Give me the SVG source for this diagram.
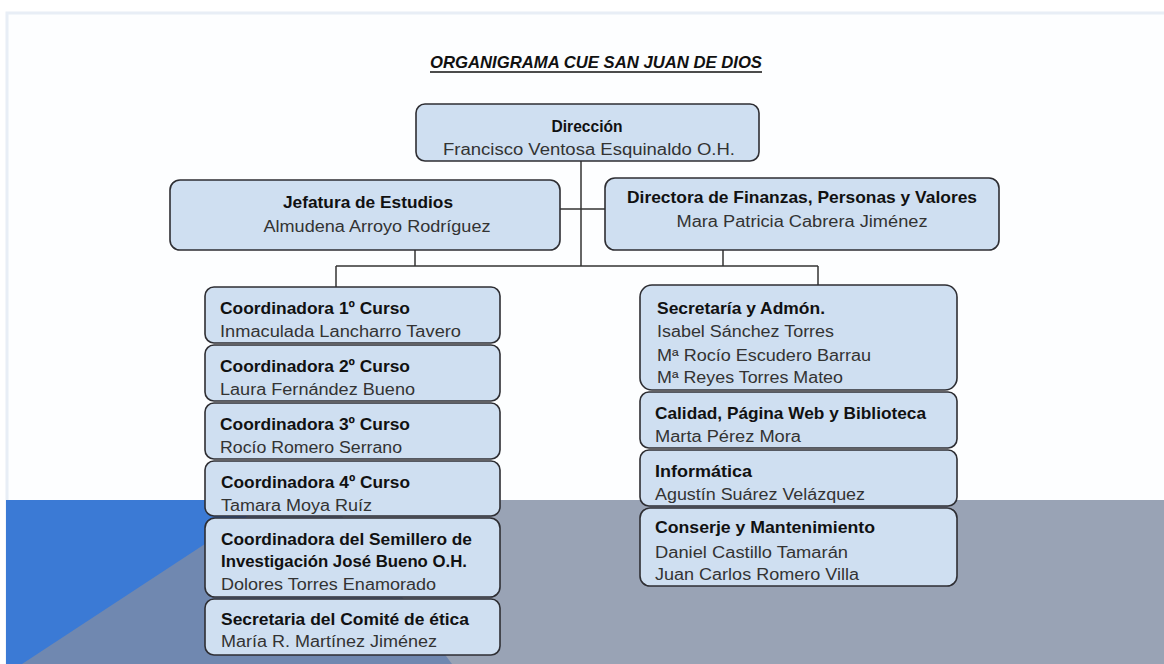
<svg xmlns="http://www.w3.org/2000/svg" width="1164" height="664" viewBox="0 0 1164 664">
<style>
.box{fill:#cfdff1;stroke:#2e2e33;stroke-width:1.6}
.b{font-family:"Liberation Sans",Arial,sans-serif;font-weight:bold;font-size:17px;fill:#111}
.r{font-family:"Liberation Sans",Arial,sans-serif;font-size:16px;fill:#333}
.c{text-anchor:middle}
.ln{stroke:#333;stroke-width:1.5;fill:none}
</style>
<rect x="0" y="0" width="1164" height="664" fill="#ffffff"/>
<rect x="7" y="13" width="1170" height="660" fill="#fdfeff" stroke="#e8eef6" stroke-width="3"/>
<g id="background">
<rect x="6" y="500" width="1158" height="164" fill="#99a3b5"/>
<polygon points="6,500 330,500 452,664 6,664" fill="#7088b0"/>
<polygon points="6,500 272,500 22,664 6,664" fill="#3b7ad5"/>
</g>
<g id="title">
<text x="596" y="68" class="b c" font-style="italic" font-size="20" textLength="332" lengthAdjust="spacingAndGlyphs">ORGANIGRAMA CUE SAN JUAN DE DIOS</text>
<line x1="430" y1="72" x2="762" y2="72" stroke="#111" stroke-width="1.3"/>
</g>
<g id="connectors">
<line class="ln" x1="581" y1="160" x2="581" y2="266"/>
<line class="ln" x1="560" y1="209" x2="605" y2="209"/>
<line class="ln" x1="415" y1="250" x2="415" y2="266"/>
<line class="ln" x1="723" y1="250" x2="723" y2="266"/>
<line class="ln" x1="336" y1="266" x2="818" y2="266"/>
<line class="ln" x1="336" y1="266" x2="336" y2="287"/>
<line class="ln" x1="818" y1="266" x2="818" y2="285"/>
</g>
<g id="direccion">
<rect class="box" x="416" y="104" width="343" height="57" rx="9"/>
<text class="b c" x="587" y="132" textLength="71" lengthAdjust="spacingAndGlyphs">Dirección</text>
<text class="r c" x="589" y="155" textLength="292" lengthAdjust="spacingAndGlyphs">Francisco Ventosa Esquinaldo O.H.</text>
</g>
<g id="jefatura">
<rect class="box" x="170" y="180" width="390" height="70" rx="10"/>
<text class="b c" x="368" y="208" textLength="170" lengthAdjust="spacingAndGlyphs">Jefatura de Estudios</text>
<text class="r c" x="377" y="232" textLength="227" lengthAdjust="spacingAndGlyphs">Almudena Arroyo Rodríguez</text>
</g>
<g id="directora">
<rect class="box" x="605" y="178" width="394" height="72" rx="10"/>
<text class="b c" x="802" y="203" textLength="350" lengthAdjust="spacingAndGlyphs">Directora de Finanzas, Personas y Valores</text>
<text class="r c" x="802" y="227" textLength="251" lengthAdjust="spacingAndGlyphs">Mara Patricia Cabrera Jiménez</text>
</g>
<g id="coord1">
<rect class="box" x="205" y="287" width="295" height="56" rx="9"/>
<text class="b" x="220" y="314" textLength="190" lengthAdjust="spacingAndGlyphs">Coordinadora 1º Curso</text>
<text class="r" x="220" y="337" textLength="241" lengthAdjust="spacingAndGlyphs">Inmaculada Lancharro Tavero</text>
</g>
<g id="coord2">
<rect class="box" x="205" y="345" width="295" height="56" rx="9"/>
<text class="b" x="220" y="372" textLength="190" lengthAdjust="spacingAndGlyphs">Coordinadora 2º Curso</text>
<text class="r" x="220" y="395" textLength="195" lengthAdjust="spacingAndGlyphs">Laura Fernández Bueno</text>
</g>
<g id="coord3">
<rect class="box" x="205" y="403" width="295" height="56" rx="9"/>
<text class="b" x="220" y="430" textLength="190" lengthAdjust="spacingAndGlyphs">Coordinadora 3º Curso</text>
<text class="r" x="220" y="453" textLength="182" lengthAdjust="spacingAndGlyphs">Rocío Romero Serrano</text>
</g>
<g id="coord4">
<rect class="box" x="205" y="461" width="295" height="55" rx="9"/>
<text class="b" x="221" y="488" textLength="189" lengthAdjust="spacingAndGlyphs">Coordinadora 4º Curso</text>
<text class="r" x="221" y="511" textLength="151" lengthAdjust="spacingAndGlyphs">Tamara Moya Ruíz</text>
</g>
<g id="semillero">
<rect class="box" x="205" y="518" width="295" height="79" rx="10"/>
<text class="b" x="221" y="545" textLength="251" lengthAdjust="spacingAndGlyphs">Coordinadora del Semillero de</text>
<text class="b" x="221" y="567" textLength="246" lengthAdjust="spacingAndGlyphs">Investigación José Bueno O.H.</text>
<text class="r" x="221" y="590" textLength="215" lengthAdjust="spacingAndGlyphs">Dolores Torres Enamorado</text>
</g>
<g id="etica">
<rect class="box" x="205" y="599" width="295" height="56" rx="9"/>
<text class="b" x="221" y="625" textLength="248" lengthAdjust="spacingAndGlyphs">Secretaria del Comité de ética</text>
<text class="r" x="221" y="647" textLength="216" lengthAdjust="spacingAndGlyphs">María R. Martínez Jiménez</text>
</g>
<g id="secretaria">
<rect class="box" x="640" y="285" width="317" height="105" rx="12"/>
<text class="b" x="657" y="314" textLength="168" lengthAdjust="spacingAndGlyphs">Secretaría y Admón.</text>
<text class="r" x="657" y="337" textLength="177" lengthAdjust="spacingAndGlyphs">Isabel Sánchez Torres</text>
<text class="r" x="657" y="361" textLength="214" lengthAdjust="spacingAndGlyphs">Mª Rocío Escudero Barrau</text>
<text class="r" x="657" y="383" textLength="186" lengthAdjust="spacingAndGlyphs">Mª Reyes Torres Mateo</text>
</g>
<g id="calidad">
<rect class="box" x="640" y="392" width="317" height="56" rx="9"/>
<text class="b" x="655" y="419" textLength="271" lengthAdjust="spacingAndGlyphs">Calidad, Página Web y Biblioteca</text>
<text class="r" x="655" y="442" textLength="146" lengthAdjust="spacingAndGlyphs">Marta Pérez Mora</text>
</g>
<g id="informatica">
<rect class="box" x="640" y="450" width="317" height="56" rx="9"/>
<text class="b" x="655" y="477" textLength="97" lengthAdjust="spacingAndGlyphs">Informática</text>
<text class="r" x="655" y="500" textLength="210" lengthAdjust="spacingAndGlyphs">Agustín Suárez Velázquez</text>
</g>
<g id="conserje">
<rect class="box" x="640" y="508" width="317" height="78" rx="10"/>
<text class="b" x="655" y="533" textLength="220" lengthAdjust="spacingAndGlyphs">Conserje y Mantenimiento</text>
<text class="r" x="655" y="558" textLength="193" lengthAdjust="spacingAndGlyphs">Daniel Castillo Tamarán</text>
<text class="r" x="655" y="580" textLength="204" lengthAdjust="spacingAndGlyphs">Juan Carlos Romero Villa</text>
</g>
</svg>
